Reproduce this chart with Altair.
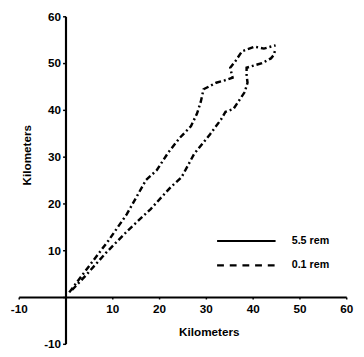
import altair as alt
import pandas as pd

series_names = ["5.5 rem", "0.1 rem"]

upper_x = [0.8, 5.1, 9.2, 13.1, 17.2, 19.5, 21.9, 24.4, 26.8, 28.1, 28.9, 29.5,
           32.2, 34.0, 35.7, 35.2, 36.3, 37.7, 40.4, 42.4, 44.9]
upper_y = [1.0, 6.7, 12.1, 17.7, 25.0, 27.1, 30.8, 34.0, 36.5, 39.2, 41.7, 44.4,
           45.8, 46.3, 46.9, 49.0, 50.4, 52.5, 53.5, 53.1, 53.8]

lower_x = [1.4, 4.5, 8.6, 13.3, 18.2, 22.5, 24.8, 27.5, 30.9, 33.2, 34.2, 35.9,
           36.9, 38.3, 38.9, 38.7, 38.7, 40.0, 42.0, 43.9, 44.5, 44.9]
lower_y = [1.5, 4.8, 9.4, 14.2, 18.8, 23.5, 25.6, 30.6, 34.8, 37.9, 39.6, 40.2,
           41.7, 43.8, 45.8, 47.5, 49.0, 49.4, 50.0, 51.0, 51.7, 53.1]

x_values = [-10, -5, 0, 5, 10, 15, 20, 25, 30, 35, 40, 45, 50, 55, 60]
y_values = [-10, -5, 0, 5, 10, 15, 20, 25, 30, 35, 40, 45, 50, 55, 60]

rows = []
for name, xs, ys in [(series_names[0], upper_x, upper_y), (series_names[1], lower_x, lower_y)]:
    for i, (xv, yv) in enumerate(zip(xs, ys)):
        rows.append({"series": name, "x": xv, "y": yv, "i": i})
df = pd.DataFrame(rows)

W, H = 336, 336
FONT = "Liberation Sans"
LABEL_EXPR = "(datum.value === 0 || datum.value % 10 !== 0) ? '' : ('' + datum.value)"

x_enc = alt.X(
    "x:Q",
    scale=alt.Scale(domain=[-10, 60], nice=False, zero=False),
    axis=alt.Axis(
        values=x_values,
        labelExpr=LABEL_EXPR,
        labelFlush=False,
        labelOverlap=False,
        offset=-H * 10 / 70,
        grid=False,
        ticks=True,
        tickSize=2,
        tickWidth=1.5,
        tickColor="black",
        labelPadding=5,
        labelFont=FONT,
        labelFontSize=12,
        labelFontWeight="bold",
        labelColor="black",
        domainColor="black",
        domainWidth=2.2,
        title="Kilometers",
        titleFont=FONT,
        titleFontSize=12,
        titleFontWeight="bold",
        titleColor="black",
        titleX=195,
        titleY=35,
        titleAlign="center",
        titleBaseline="middle",
    ),
)

y_enc = alt.Y(
    "y:Q",
    scale=alt.Scale(domain=[-10, 60], nice=False, zero=False),
    axis=alt.Axis(
        values=y_values,
        labelExpr=LABEL_EXPR,
        labelFlush=False,
        labelOverlap=False,
        offset=-W * 10 / 70,
        grid=False,
        tickSize=3,
        tickWidth=1.5,
        tickColor="black",
        labelPadding=2,
        labelFont=FONT,
        labelFontSize=12,
        labelFontWeight="bold",
        labelColor="black",
        domainColor="black",
        domainWidth=2.2,
        title="Kilometers",
        titleFont=FONT,
        titleFontSize=12,
        titleFontWeight="bold",
        titleColor="black",
        titleX=-40,
        titleY=142,
        titleAngle=270,
        titleAlign="center",
        titleBaseline="middle",
    ),
)

lines = alt.Chart(df).mark_line(
    color="black", strokeWidth=2.5, strokeDash=[6, 3, 2, 3], strokeCap="butt"
).encode(x=x_enc, y=y_enc, detail="series:N", order="i:Q")

legend_layer = alt.Chart(df).transform_filter("datum.i == 0").mark_line(
    color="black", strokeWidth=2, strokeCap="butt"
).encode(
    x="x:Q",
    y="y:Q",
    strokeDash=alt.StrokeDash(
        "series:N",
        scale=alt.Scale(domain=series_names, range=[[1, 0], [7, 6]]),
        legend=alt.Legend(
            title=None,
            orient="none",
            legendX=202,
            legendY=218,
            symbolType="stroke",
            symbolSize=3600,
            symbolStrokeWidth=2.2,
            symbolStrokeColor="black",
            clipHeight=25,
            rowPadding=0,
            labelOffset=15,
            labelFont=FONT,
            labelFontSize=11,
            labelFontWeight="bold",
            labelColor="black",
            padding=0,
        ),
    ),
)

chart = alt.layer(lines, legend_layer).properties(
    width=W,
    height=H,
    autosize=alt.AutoSizeParams(type="none"),
    padding={"left": 11, "top": 4, "right": 10, "bottom": 9},
    background="white",
).configure_view(stroke=None)

chart.save("out.html", embed_options={"renderer": "svg", "actions": False})
